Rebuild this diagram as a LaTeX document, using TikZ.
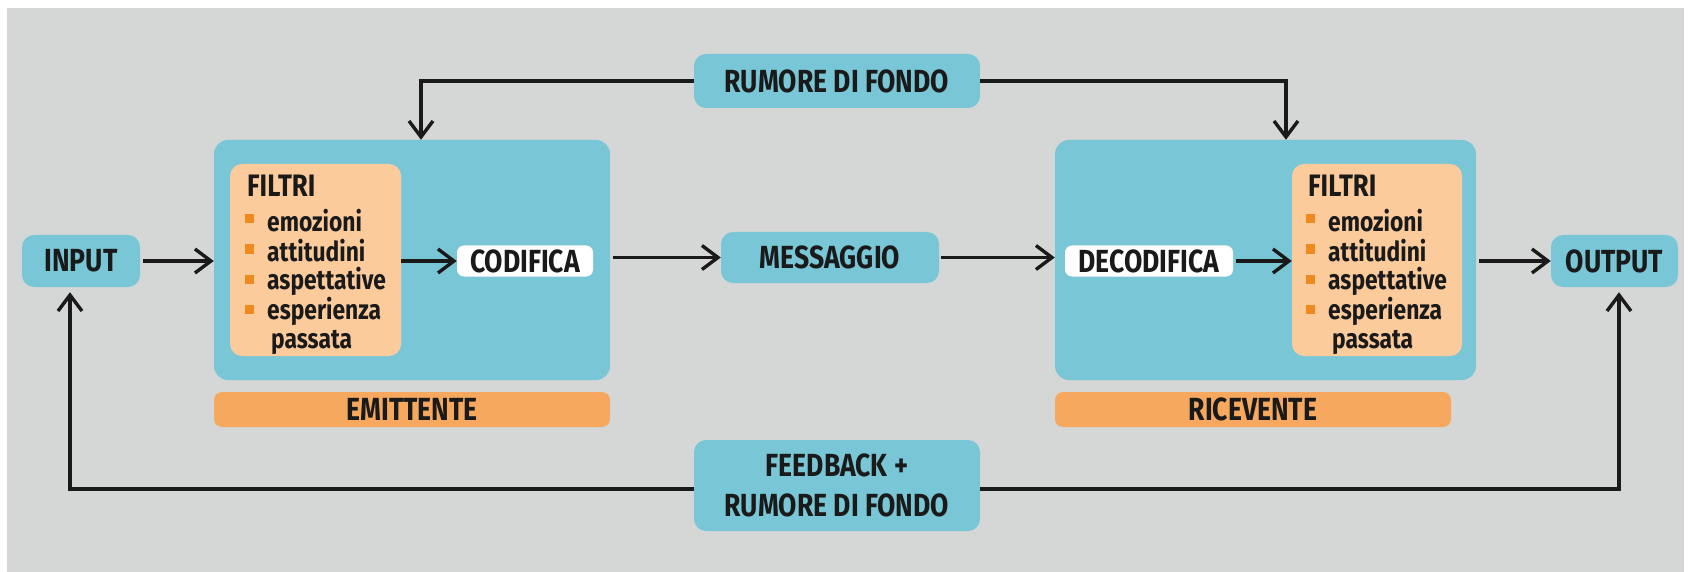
\documentclass[tikz,border=0pt]{standalone}
\usepackage{fontspec}
\setmainfont{Fira Sans}[FakeStretch=0.83]
\usetikzlibrary{arrows.meta}
\definecolor{bg}{HTML}{D4D7D6}
\definecolor{teal}{HTML}{79C7D6}
\definecolor{peach}{HTML}{FCCB9C}
\definecolor{orbar}{HTML}{F6A85E}
\definecolor{bul}{HTML}{F08A1F}
\definecolor{ink}{HTML}{1A1A1A}
\tikzset{
  x=1pt, y=-1pt,
  lbl/.style={font=\bfseries\fontsize{32}{36}\selectfont, text=ink, align=center, inner sep=0pt},
  tbox/.style={lbl, fill=teal, rounded corners=12pt},
  wbox/.style={lbl, fill=white, rounded corners=7pt},
  bigbox/.style={fill=teal, rounded corners=14pt, inner sep=0pt},
  filt/.style={fill=peach, rounded corners=12pt, inner sep=0pt},
  bar/.style={lbl, fill=orbar, rounded corners=8pt},
  item/.style={font=\bfseries\fontsize{27.5}{30}\selectfont, text=ink, anchor=west, inner sep=0pt},
  ftitle/.style={font=\bfseries\fontsize{31}{34}\selectfont, text=ink, anchor=west, inner sep=0pt},
  sq/.style={fill=bul, minimum size=9pt, inner sep=0pt},
  conn/.style={line width=3.4pt, draw=ink, -{Straight Barb[length=16pt,width=24pt,line width=3.4pt]}},
}
\begin{document}
\begin{tikzpicture}
\useasboundingbox (0,0) rectangle (1692,572);
\fill[white] (0,0) rectangle (1692,572);
\fill[bg] (7,8) rectangle (1684,572);

% boxes
\node[tbox, minimum width=118pt, minimum height=52pt] (input) at (81,261) {INPUT};
\node[tbox, minimum width=286pt, minimum height=54pt] (rumore) at (837,81) {RUMORE DI FONDO};
\node[bigbox, minimum width=396pt, minimum height=240pt] (emit) at (412,260) {};
\node[filt, minimum width=171pt, minimum height=192pt] (filtL) at (315.5,260) {};
\node[wbox, minimum width=136pt, minimum height=31pt] (cod) at (525,261) {CODIFICA};
\node[bar, minimum width=396pt, minimum height=35pt] (emitbar) at (412,409.5) {EMITTENTE};
\node[tbox, minimum width=218pt, minimum height=51pt] (msg) at (830,257.5) {MESSAGGIO};
\node[bigbox, minimum width=421pt, minimum height=240pt] (ric) at (1265.5,260) {};
\node[wbox, minimum width=168pt, minimum height=31pt] (decod) at (1149,261) {DECODIFICA};
\node[filt, minimum width=170pt, minimum height=192pt] (filtR) at (1377,260) {};
\node[bar, minimum width=396pt, minimum height=35pt] (ricbar) at (1253,409.5) {RICEVENTE};
\node[tbox, minimum width=127pt, minimum height=52pt] (output) at (1614.5,261) {OUTPUT};
\node[tbox, minimum width=286pt, minimum height=91pt] (feed) at (837,485.5) {FEEDBACK +\\[4pt]RUMORE DI FONDO};

% left filter contents
\node[ftitle] (lt) at (247,186) {FILTRI};
\node[sq] (lb1) at (249,219) {};
\node[item] (li1) at (267,221) {emozioni};
\node[sq] (lb2) at (249,249) {};
\node[item] (li2) at (267,251) {attitudini};
\node[sq] (lb3) at (249,279) {};
\node[item] (li3) at (267,281) {aspettative};
\node[sq] (lb4) at (249,309) {};
\node[item] (li4) at (267,311) {esperienza};
\node[item] (li5) at (271,342) {passata};

% right filter contents
\node[ftitle] (rt) at (1308,186) {FILTRI};
\node[sq] (rb1) at (1310,219) {};
\node[item] (ri1) at (1328,221) {emozioni};
\node[sq] (rb2) at (1310,249) {};
\node[item] (ri2) at (1328,251) {attitudini};
\node[sq] (rb3) at (1310,279) {};
\node[item] (ri3) at (1328,281) {aspettative};
\node[sq] (rb4) at (1310,309) {};
\node[item] (ri4) at (1328,311) {esperienza};
\node[item] (ri5) at (1332,342) {passata};

% coordinates for bends
\coordinate (tl) at (421,81);
\coordinate (tr) at (1286,81);
\coordinate (bl) at (70,489);
\coordinate (br) at (1619,489);

% main row connectors
\draw[conn] (input.east) ++(3,0) -- (emit.west |- input.east);
\draw[conn] (filtL.east |- cod.west) -- (cod.west);
\draw[conn] (emit.east |- msg.east) ++(3,0) -- (msg.west);
\draw[conn] (msg.east) ++(2,0) -- (ric.west |- msg.east);
\draw[conn] (decod.east) ++(3,0) -- (filtR.west |- decod.east);
\draw[conn] (ric.east |- output.west) ++(3,0) -- (output.west);

% top noise
\draw[conn] (rumore.west) -- (tl) -- (tl |- emit.north);
\draw[conn] (rumore.east) -- (tr) -- (tr |- ric.north);

% bottom feedback
\draw[conn] (feed.west |- bl) -- (bl) -- ([yshift=-5pt]bl |- input.south);
\draw[conn] (feed.east |- br) -- (br) -- ([yshift=-5pt]br |- output.south);
\end{tikzpicture}
\end{document}
